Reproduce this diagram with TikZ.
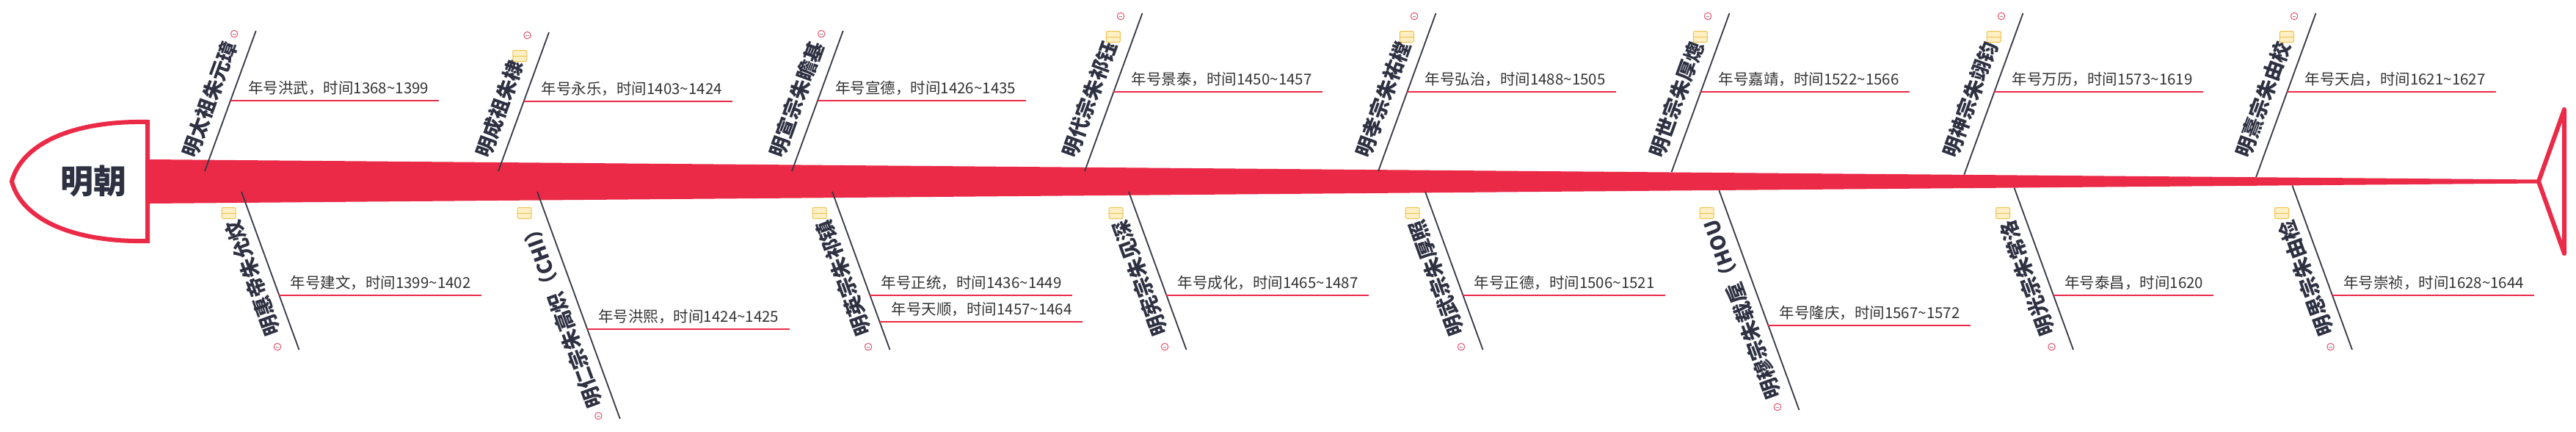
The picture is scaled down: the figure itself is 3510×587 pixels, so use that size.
\documentclass[tikz,border=0pt]{standalone}
\usepackage{fontspec}
\newfontfamily\cjk{Noto Sans CJK SC}
\usetikzlibrary{calc}
\definecolor{spinec}{HTML}{EB2A47}
\definecolor{topicc}{HTML}{2E3142}
\definecolor{labelc}{HTML}{333333}
\definecolor{bonec}{HTML}{363945}
\definecolor{notef}{HTML}{FFEFC4}
\definecolor{notec}{HTML}{F0C24E}
\definecolor{collc}{HTML}{EE5068}
\definecolor{minusc}{HTML}{8C8C9A}
\newcommand\tild{\string~}
\tikzset{
 topic/.style={inner sep=0pt, text=topicc, font=\cjk\bfseries\fontsize{27.5pt}{30pt}\selectfont},
 uptopic/.style={topic, rotate=70, anchor=base west},
 lowtopic/.style={topic, rotate=110, anchor=base east},
 sublabel/.style={inner sep=0pt, anchor=base west, text=labelc, font=\cjk\fontsize{20.5pt}{24pt}\selectfont},
 bone/.style={draw=bonec, line width=1.8pt},
 uline/.style={draw=spinec, line width=1.5pt},
 collicon/.style={circle, draw=collc, fill=white, line width=1pt, minimum size=9.5pt, inner sep=0pt,
   path picture={\draw[minusc, line width=1pt] ([xshift=-2.3pt]path picture bounding box.center) -- ([xshift=2.3pt]path picture bounding box.center);}},
 noteicon/.style={rectangle, rounded corners=2pt, draw=notec, fill=notef, line width=1pt, minimum width=19pt, minimum height=15pt, inner sep=0pt,
   path picture={\draw[notec, line width=1pt] (path picture bounding box.west) -- (path picture bounding box.east);}},
 headtext/.style={text=topicc, font=\cjk\bfseries\fontsize{45pt}{50pt}\selectfont, inner sep=0pt},
}
% upper bone: id, bx (x at y=233), top y, underline y, note flag, topic, label
\newcommand\upbone[7]{%
 \pgfmathsetmacro\mybotY{max(233,217+0.00835*(#2-204))}%
 \coordinate (#1b) at ({#2+(233-\mybotY)*0.365},\mybotY);
 \coordinate (#1t) at ({#2+(233-#3)*0.365},#3);
 \draw[bone] (#1b) -- (#1t);
 \node[uptopic] (#1n) at ({#2-12},216.4) {#6};
 \coordinate (#1m) at ({#2+(233-#4)*0.365},#4);
 \node[sublabel] (#1l) at ({#2+(233-#4)*0.365+24},{#4-9.5}) {#7};
 \coordinate (#1e) at (#1m -| #1l.east);
 \draw[uline] (#1m) -- ([xshift=14pt]#1e);
 \node[collicon] (#1c) at ({#2+(229-#3)*0.365-28},{#3+4}) {};
 \ifnum#5=1 \node[noteicon] (#1y) at ({#2+(201-#3)*0.365-28},{#3+32}) {};\fi
}
% lower bone: id, tx (x at y=261), bottom y, underline y, topic, label
\newcommand\lowbone[6]{%
 \pgfmathsetmacro\mytopY{min(261,277-0.00835*(#2-204))}%
 \coordinate (#1t) at ({#2+(\mytopY-261)*0.365},\mytopY);
 \coordinate (#1b) at ({#2+(#3-261)*0.365},#3);
 \draw[bone] (#1t) -- (#1b);
 \node[lowtopic] (#1n) at ({#2-3},297) {#5};
 \node[noteicon] (#1y) at ({#2-17.4},290) {};
 \node[collicon] (#1c) at ({#2+(#3-265)*0.365-28},{#3-4}) {};
 \coordinate (#1m) at ({#2+(#4-261)*0.365},#4);
 \node[sublabel] (#1l) at ({#2+(#4-261)*0.365+15},{#4-9.5}) {#6};
 \coordinate (#1e) at (#1m -| #1l.east);
 \draw[uline] (#1m) -- ([xshift=14pt]#1e);
}
\begin{document}
\begin{tikzpicture}[x=1pt,y=-1pt]
\fill[white] (0,0) rectangle (3510,587);
\useasboundingbox (0,0) rectangle (3510,587);
% head
\draw[spinec, line width=6pt, fill=white, line join=miter]
  (201,166) .. controls (100,164) and (30,195) .. (16,247)
  .. controls (30,299) and (100,330) .. (201,328) -- cycle;
\node[headtext] (head) at (127,247) {明朝};
% spine
\fill[spinec] (204,217) -- (3459,244.5) -- (3459,249.5) -- (204,277) -- cycle;
% tail
\draw[spinec, line width=6pt, line join=round] (3459,247) -- (3494,149) -- (3494,345) -- cycle;
% upper bones
\upbone{u1}{279}{42}{137}{0}{明太祖朱元璋}{年号洪武，时间1368\tild1399}
\upbone{u2}{679}{44}{138}{1}{明成祖朱棣}{年号永乐，时间1403\tild1424}
\upbone{u3}{1079}{42}{137}{0}{明宣宗朱瞻基}{年号宣德，时间1426\tild1435}
\upbone{u4}{1478}{18}{125}{1}{明代宗朱祁钰}{年号景泰，时间1450\tild1457}
\upbone{u5}{1878}{18}{125}{1}{明孝宗朱祐樘}{年号弘治，时间1488\tild1505}
\upbone{u6}{2278}{18}{125}{1}{明世宗朱厚熜}{年号嘉靖，时间1522\tild1566}
\upbone{u7}{2678}{18}{125}{1}{明神宗朱翊钧}{年号万历，时间1573\tild1619}
\upbone{u8}{3077}{18}{125}{1}{明熹宗朱由校}{年号天启，时间1621\tild1627}
% lower bones
\lowbone{l1}{329}{476}{402}{明惠帝朱允炆}{年号建文，时间1399\tild1402}
\lowbone{l2}{732}{570}{448}{明仁宗朱高炽（CHI）}{年号洪熙，时间1424\tild1425}
\lowbone{l3}{1134}{476}{402}{明英宗朱祁镇}{年号正统，时间1436\tild1449}
\coordinate (l3m2) at ({1134+(438-261)*0.365},438);
\node[sublabel] (l3l2) at ({1134+(438-261)*0.365+16},{438-9.5}) {年号天顺，时间1457\tild1464};
\coordinate (l3e2) at (l3m2 -| l3l2.east);
\draw[uline] (l3m2) -- ([xshift=14pt]l3e2);
\lowbone{l4}{1538}{476}{402}{明宪宗朱见深}{年号成化，时间1465\tild1487}
\lowbone{l5}{1942}{476}{402}{明武宗朱厚照}{年号正德，时间1506\tild1521}
\lowbone{l6}{2343}{558}{443}{明穆宗朱载垕（HOU}{年号隆庆，时间1567\tild1572}
\lowbone{l7}{2746.5}{476}{402}{明光宗朱常洛}{年号泰昌，时间1620}
\lowbone{l8}{3126.5}{476}{402}{明思宗朱由检}{年号崇祯，时间1628\tild1644}
\end{tikzpicture}
\end{document}
